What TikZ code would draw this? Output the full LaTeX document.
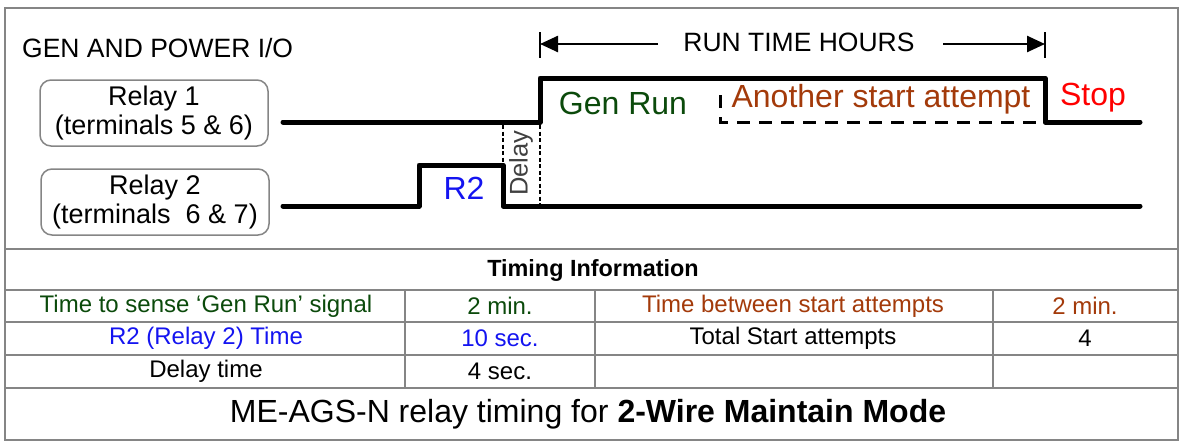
\documentclass[tikz,border=0pt]{standalone}
\usepackage{fontspec}
\setmainfont{Liberation Sans}
\usetikzlibrary{arrows.meta}
\definecolor{gengreen}{HTML}{0B4A0B}
\definecolor{rtblue}{HTML}{1414F0}
\definecolor{attbrown}{HTML}{A33A0A}
\definecolor{stopred}{HTML}{FF0000}
\definecolor{framegray}{HTML}{858585}
\begin{document}
\begin{tikzpicture}[x=1pt,y=-1pt,
  sig/.style={line width=5pt, line cap=round, line join=round},
  frameline/.style={draw=framegray, line width=2.5pt},
  relaybox/.style={draw=framegray, line width=1.5pt, rounded corners=11pt, minimum width=228pt, minimum height=66pt, align=center, font=\fontsize{27}{29}\selectfont, inner sep=0pt},
  big/.style={font=\fontsize{32}{34}\selectfont, inner sep=0pt},
  mid/.style={font=\fontsize{26.5}{29}\selectfont, inner sep=0pt},
  cell/.style={font=\fontsize{24}{26}\selectfont, inner sep=0pt},
  dotl/.style={line width=2.5pt, dash pattern=on 4pt off 2.5pt},
  dashl/.style={line width=3pt, dash pattern=on 13pt off 9pt},
  tick/.style={line width=1.5pt},
  arr/.style={line width=2.5pt, -{Triangle[length=18pt,width=16pt]}}
]
\useasboundingbox (0,0) rectangle (1183,445);
% outer frame
\draw[frameline] (5,8) rectangle (1178,440);
% table lines
\draw[frameline] (5,249) -- (1178,249);
\draw[frameline] (5,290) -- (1178,290);
\draw[frameline] (5,322) -- (1178,322);
\draw[frameline] (5,355) -- (1178,355);
\draw[frameline] (5,388) -- (1178,388);
\draw[frameline] (405,290) -- (405,388);
\draw[frameline] (595,290) -- (595,388);
\draw[frameline] (993,290) -- (993,388);

% header
\node[mid, anchor=west] (hdr) at (22,48) {GEN AND POWER I/O};
\node[relaybox] (r1) at (154,113) {Relay 1\\(terminals 5 \& 6)};
\node[relaybox] (r2) at (155,202) {Relay 2\\(terminals\ \ 6 \& 7)};

% coordinates for signals
\coordinate (a0) at (283,122);
\coordinate (a1) at (540,122);
\coordinate (a2) at (540,78);
\coordinate (a3) at (1045,78);
\coordinate (a4) at (1045,122);
\coordinate (a5) at (1140,122);
\coordinate (b0) at (283,206);
\coordinate (b1) at (419,206);
\coordinate (b2) at (419,165);
\coordinate (b3) at (503,165);
\coordinate (b4) at (503,206);
\coordinate (b5) at (1140,206);

\draw[sig] (a0) -- (a1) -- (a2) -- (a3) -- (a4) -- (a5);
\draw[sig] (b0) -- (b1) -- (b2) -- (b3) -- (b4) -- (b5);

% delay
\coordinate (d1) at (503,125);
\coordinate (d2) at (540,125);
\coordinate (d3) at (540,204);
\draw[dotl] (d1) -- (b3);
\draw[dotl] (d2) -- (d3);
\node[font=\fontsize{25.5}{28}\selectfont, inner sep=0pt, rotate=90, text=black!75] (delay) at (521,163) {Delay};

\node[big, text=rtblue] (r2lbl) at (464,188) {R2};
\node[big, text=gengreen] (genrun) at (623,103) {Gen Run};

% another start attempt
\coordinate (s0) at (720,95);
\coordinate (s1) at (720,122);
\draw[dashl] (s0) -- (s1) -- (a4);
\node[big, text=attbrown] (another) at (881,99) {Another start attempt};
\node[big, text=stopred] (stop) at (1093,98) {Stop};

% run time hours
\coordinate (t1a) at (540,32);
\coordinate (t1b) at (540,58);
\coordinate (t2a) at (1045,32);
\coordinate (t2b) at (1045,58);
\draw[tick] (t1a) -- (t1b);
\draw[tick] (t2a) -- (t2b);
\node[mid] (rth) at (799,42) {RUN TIME HOURS};
\coordinate (la) at (658,44);
\coordinate (ra) at (943,44);
\draw[arr] (la) -- (540,44);
\draw[arr] (ra) -- (1045,44);

% table text
\node[cell, font=\fontsize{23.4}{26}\selectfont\bfseries] (ti) at (593,270) {Timing Information};
\node[cell, text=gengreen] (c11) at (206,306) {Time to sense ‘Gen Run’ signal};
\node[cell, text=gengreen] (c12) at (500,306) {2 min.};
\node[cell, text=attbrown] (c13) at (793,306) {Time between start attempts};
\node[cell, text=attbrown] (c14) at (1085,306) {2 min.};
\node[cell, text=rtblue] (c21) at (206,338) {R2 (Relay 2) Time};
\node[cell, text=rtblue] (c22) at (500,338) {10 sec.};
\node[cell] (c23) at (793,338) {Total Start attempts};
\node[cell] (c24) at (1085,338) {4};
\node[cell] (c31) at (206,371) {Delay time};
\node[cell] (c32) at (500,371) {4 sec.};
\node[font=\fontsize{32}{35}\selectfont, inner sep=0pt] (title) at (588,414) {ME-AGS-N relay timing for \textbf{2-Wire Maintain Mode}};
\end{tikzpicture}
\end{document}
